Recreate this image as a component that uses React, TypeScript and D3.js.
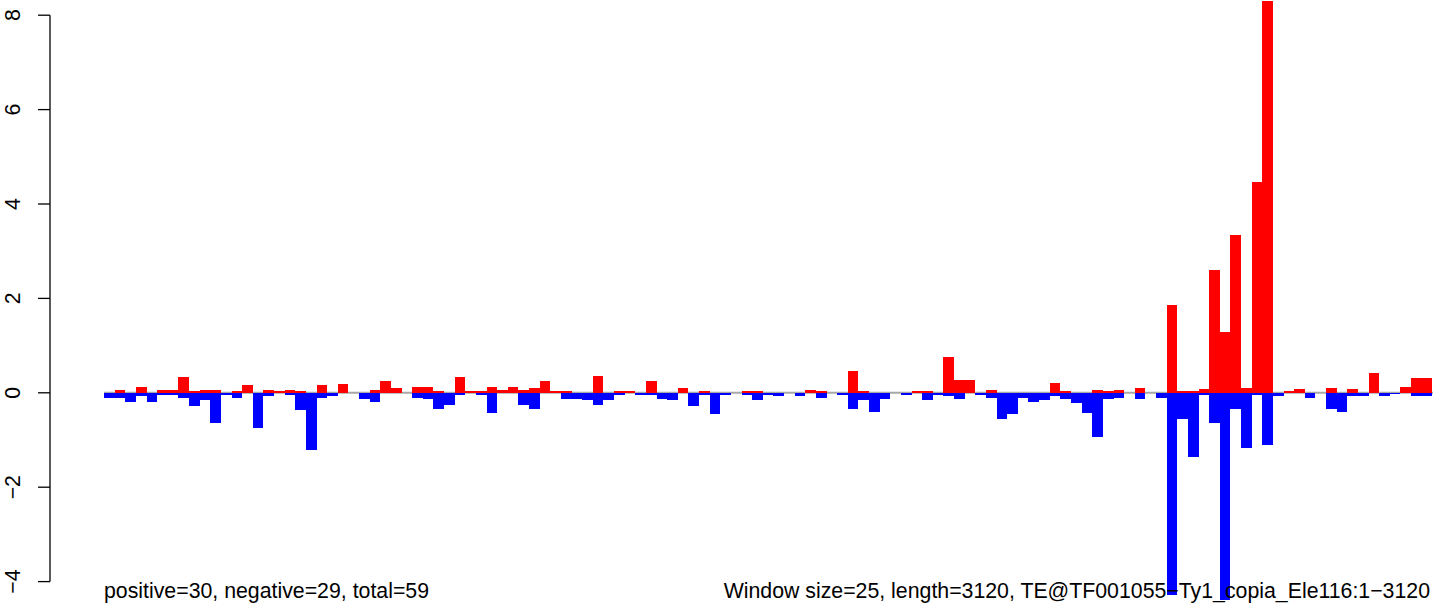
import React from "react";
import * as d3 from "d3";

const windowSize = 25;
const seqLength = 3120;
const positiveValues: number[] = [
  0, 0.06, 0, 0.12, 0, 0.06, 0.06, 0.33, 0.04, 0.06,
  0.06, 0, 0.04, 0.16, 0, 0.06, 0.04, 0.06, 0.04, 0,
  0.16, 0, 0.18, 0, 0, 0.06, 0.25, 0.10, 0, 0.12,
  0.12, 0.04, 0, 0.33, 0.04, 0.04, 0.12, 0.06, 0.12, 0.06,
  0.10, 0.25, 0.04, 0.04, 0, 0, 0.35, 0, 0.04, 0.04,
  0, 0.25, 0, 0, 0.10, 0, 0.04, 0, 0, 0,
  0.04, 0.04, 0, 0, 0, 0, 0.06, 0.04, 0, 0,
  0.46, 0.04, 0, 0, 0, 0, 0.04, 0.04, 0, 0.76,
  0.27, 0.27, 0, 0.06, 0, 0, 0, 0, 0, 0.21,
  0.04, 0, 0, 0.06, 0.04, 0.06, 0, 0.10, 0, 0,
  1.86, 0.04, 0.04, 0.07, 2.61, 1.28, 3.35, 0.11, 4.46, 8.30,
  0, 0.04, 0.07, 0, 0, 0.11, 0, 0.07, 0, 0.43,
  0, 0, 0.13, 0.32, 0.32,
];
const negativeValues: number[] = [
  -0.10, -0.10, -0.19, -0.06, -0.19, -0.04, -0.04, -0.11, -0.28, -0.16,
  -0.64, -0.04, -0.11, 0, -0.74, -0.06, 0, -0.04, -0.36, -1.21,
  -0.11, -0.06, 0, 0, -0.13, -0.19, 0, 0, 0, -0.11,
  -0.13, -0.34, -0.25, -0.04, 0, -0.04, -0.42, 0, 0, -0.25,
  -0.34, 0, 0, -0.13, -0.13, -0.15, -0.25, -0.15, -0.04, 0,
  -0.04, -0.04, -0.13, -0.15, 0, -0.28, -0.04, -0.45, -0.04, 0,
  -0.04, -0.15, -0.04, -0.06, 0, -0.06, 0, -0.11, 0, -0.04,
  -0.34, -0.15, -0.40, -0.13, 0, -0.04, 0, -0.15, -0.04, -0.06,
  -0.13, 0, -0.04, -0.11, -0.55, -0.45, -0.11, -0.19, -0.15, -0.06,
  -0.13, -0.21, -0.42, -0.93, -0.13, -0.11, 0, -0.13, 0, -0.11,
  -4.29, -0.56, -1.37, -0.04, -0.63, -4.38, -0.35, -1.16, -0.04, -1.10,
  -0.06, 0, 0, -0.10, 0, -0.35, -0.41, -0.06, -0.06, 0,
  -0.06, -0.03, 0, -0.06, -0.06,
];
const yTicks: number[] = [-4, -2, 0, 2, 4, 6, 8];
const leftLabel = "positive=30, negative=29, total=59";
const rightLabel = "Window size=25, length=3120, TE@TF001055\u2212Ty1_copia_Ele116:1\u22123120";

const W = 1433;
const H = 604;
const FONT = "'Liberation Sans', Arial, Helvetica, sans-serif";
const FS = 21.3;

export default function App() {
  const nWin = positiveValues.length;
  const x = d3.scaleLinear().domain([0, nWin * windowSize]).range([104, 1432.3]);
  const y = d3.scaleLinear().domain([-4, 8]).range([581.6, 15.2]);
  const y0 = y(0);
  const fmt = (v: number) => (v < 0 ? "\u2212" + Math.abs(v) : String(v));

  return (
    <svg
      width={W}
      height={H}
      style={{ position: "fixed", left: 0, top: 0, background: "#fff" }}
      fontFamily={FONT}
    >
      <rect x={0} y={0} width={W} height={H} fill="#fff" />
      <line x1={x(0)} x2={W} y1={y0} y2={y0} stroke="#a8a8a8" strokeWidth={2} />
      <g shapeRendering="crispEdges">
        {positiveValues.map((v, i) =>
          v > 0 ? (
            <rect
              key={"p" + i}
              x={x(i * windowSize)}
              width={x((i + 1) * windowSize) - x(i * windowSize)}
              y={y(v)}
              height={y0 - y(v)}
              fill="#ff0000"
            />
          ) : null
        )}
        {negativeValues.map((v, i) =>
          v < 0 ? (
            <rect
              key={"n" + i}
              x={x(i * windowSize)}
              width={x((i + 1) * windowSize) - x(i * windowSize)}
              y={y0}
              height={y(v) - y0}
              fill="#0000ff"
            />
          ) : null
        )}
      </g>
      <line x1={50} x2={50} y1={y(8)} y2={y(-4)} stroke="#000" strokeWidth={1.3} />
      {yTicks.map((t) => (
        <g key={t}>
          <line x1={38} x2={50} y1={y(t)} y2={y(t)} stroke="#000" strokeWidth={1.3} />
          <text
            transform={`translate(20,${y(t)}) rotate(-90)`}
            textAnchor="middle"
            fontSize={FS}
            fill="#000"
          >
            {fmt(t)}
          </text>
        </g>
      ))}
      <text x={104} y={597.5} fontSize={FS} fill="#000">
        {leftLabel}
      </text>
      <text x={1430} y={597.5} fontSize={FS} textAnchor="end" fill="#000">
        {rightLabel}
      </text>
    </svg>
  );
}
